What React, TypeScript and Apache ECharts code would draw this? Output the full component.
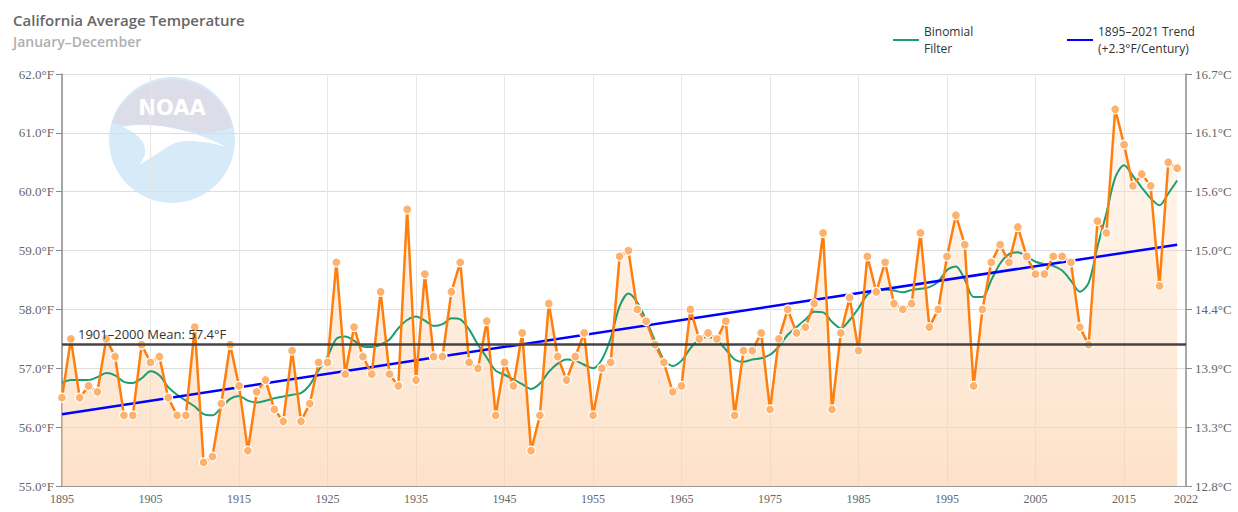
import React, { useEffect, useRef } from 'react';
import * as echarts from 'echarts';

const years: string[] = Array.from({ length: 128 }, (_, i) => String(1895 + i));

const temps: number[] = [
  56.5, 57.5, 56.5, 56.7, 56.6, 57.5, 57.2, 56.2, 56.2, 57.4,
  57.1, 57.2, 56.5, 56.2, 56.2, 57.7, 55.4, 55.5, 56.4, 57.4,
  56.7, 55.6, 56.6, 56.8, 56.3, 56.1, 57.3, 56.1, 56.4, 57.1,
  57.1, 58.8, 56.9, 57.7, 57.2, 56.9, 58.3, 56.9, 56.7, 59.7,
  56.8, 58.6, 57.2, 57.2, 58.3, 58.8, 57.1, 57.0, 57.8, 56.2,
  57.1, 56.7, 57.6, 55.6, 56.2, 58.1, 57.2, 56.8, 57.2, 57.6,
  56.2, 57.0, 57.1, 58.9, 59.0, 58.0, 57.8, 57.4, 57.1, 56.6,
  56.7, 58.0, 57.5, 57.6, 57.5, 57.8, 56.2, 57.3, 57.3, 57.6,
  56.3, 57.5, 58.0, 57.6, 57.7, 58.1, 59.3, 56.3, 57.6, 58.2,
  57.3, 58.9, 58.3, 58.8, 58.1, 58.0, 58.1, 59.3, 57.7, 58.0,
  58.9, 59.6, 59.1, 56.7, 58.0, 58.8, 59.1, 58.8, 59.4, 58.9,
  58.6, 58.6, 58.9, 58.9, 58.8, 57.7, 57.4, 59.5, 59.3, 61.4,
  60.8, 60.1, 60.3, 60.1, 58.4, 60.5, 60.4,
];

const filter: number[] = [
  56.75, 56.8, 56.8, 56.8, 56.85, 56.92, 56.88, 56.77, 56.75, 56.83,
  56.95, 56.88, 56.68, 56.55, 56.45, 56.35, 56.22, 56.2, 56.33, 56.48,
  56.53, 56.45, 56.42, 56.45, 56.49, 56.52, 56.55, 56.58, 56.72, 56.97,
  57.2, 57.5, 57.54, 57.47, 57.37, 57.36, 57.4, 57.49, 57.68, 57.82,
  57.88, 57.81, 57.72, 57.75, 57.85, 57.83, 57.66, 57.4, 57.18, 56.96,
  56.89, 56.81, 56.73, 56.65, 56.74, 56.94, 57.08, 57.15, 57.13, 57.06,
  57.0, 57.15, 57.51, 58.05, 58.27, 58.12, 57.82, 57.47, 57.15, 57.04,
  57.13, 57.34, 57.49, 57.53, 57.47, 57.32, 57.15, 57.11, 57.15, 57.17,
  57.23, 57.37, 57.57, 57.7, 57.83, 57.96, 57.95, 57.79, 57.68, 57.82,
  58.02, 58.25, 58.33, 58.34, 58.32, 58.29, 58.33, 58.35, 58.38, 58.47,
  58.67, 58.73, 58.51, 58.21, 58.21, 58.5, 58.78, 58.94, 58.97, 58.9,
  58.81, 58.77, 58.74, 58.66, 58.49, 58.3, 58.45, 59.07, 59.63, 60.24,
  60.45, 60.27, 60.07, 59.89, 59.77, 59.97, 60.19,
];

const trendPoints: [string, number][] = [['1895', 56.22], ['2021', 59.1]];
const meanValue = 57.4;
const yMinF = 55;
const yMaxF = 62;

const titleText = 'California Average Temperature';
const subtitleText = 'January–December';
const filterName = 'Binomial Filter';
const trendName = '1895–2021 Trend';
const meanLabel = '1901–2000 Mean: 57.4°F';

// NOAA watermark shapes (local box 126 x 126)
const grayPath =
  'M 3,46 A 63,63 0 0 1 124,50 C 112,54 100,56 90,56 C 70,52 45,46 16,48 C 10,48 6,47 3,46 Z';
const gullPath =
  'M 14,50 C 45,44 80,52 118,70 C 96,64 78,62 66,66 C 54,72 44,80 30,88 C 40,76 40,62 14,50 Z';

export default function App() {
  const ref = useRef<HTMLDivElement>(null);
  useEffect(() => {
    document.body.style.margin = '0';
    echarts.graphic.registerShape('noaaGray', echarts.graphic.extendPath(grayPath, {}) as any);
    echarts.graphic.registerShape('noaaGull', echarts.graphic.extendPath(gullPath, {}) as any);
    const chart = echarts.init(ref.current!, null, { renderer: 'svg' });
    const axisFont = 'Liberation Serif, Times New Roman, serif';
    const sansFont = 'Open Sans, DejaVu Sans, sans-serif';
    const option: any = {
      animation: false,
      backgroundColor: '#ffffff',
      title: {
        text: titleText,
        subtext: subtitleText,
        left: 8,
        top: 7,
        itemGap: 7,
        textStyle: { fontFamily: sansFont, fontSize: 15, fontWeight: 600, color: '#666666' },
        subtextStyle: { fontFamily: sansFont, fontSize: 14, fontWeight: 600, color: '#b0b0b0' },
      },
      legend: [
        {
          data: [filterName],
          left: 888,
          top: 18,
          icon: 'rect',
          itemWidth: 26,
          itemHeight: 2,
          formatter: () => 'Binomial\nFilter',
          textStyle: { fontFamily: sansFont, fontSize: 12, color: '#333333', lineHeight: 17 },
        },
        {
          data: [trendName],
          left: 1062,
          top: 18,
          icon: 'rect',
          itemWidth: 26,
          itemHeight: 2,
          formatter: () => '1895–2021 Trend\n(+2.3°F/Century)',
          textStyle: { fontFamily: sansFont, fontSize: 12, color: '#333333', lineHeight: 17 },
        },
      ],
      grid: { left: 62, right: 52, top: 74, bottom: 26, containLabel: false },
      xAxis: {
        type: 'category',
        data: years,
        boundaryGap: false,
        axisLine: { show: true, lineStyle: { color: '#999999', width: 1 } },
        axisTick: { show: false },
        axisLabel: {
          interval: (idx: number, val: string) => idx % 10 === 0 || val === '2022',
          fontFamily: axisFont,
          fontSize: 12,
          color: '#666666',
          margin: 7,
        },
        splitLine: {
          show: true,
          interval: (idx: number) => idx % 10 === 0,
          lineStyle: { color: '#e6e6e6', width: 1 },
        },
      },
      yAxis: [
        {
          type: 'value',
          min: yMinF,
          max: yMaxF,
          interval: 1,
          position: 'left',
          axisLine: { show: true, lineStyle: { color: '#8c8c8c', width: 1.5 } },
          axisTick: { show: true, inside: false, length: 6, lineStyle: { color: '#8c8c8c' } },
          axisLabel: {
            formatter: (v: number) => v.toFixed(1) + '°F',
            fontFamily: axisFont,
            fontSize: 13,
            color: '#666666',
            margin: 8,
          },
          splitLine: { show: true, lineStyle: { color: '#dddddd', width: 1 } },
        },
        {
          type: 'value',
          min: yMinF,
          max: yMaxF,
          interval: 1,
          position: 'right',
          axisLine: { show: true, lineStyle: { color: '#8c8c8c', width: 1.5 } },
          axisTick: { show: true, inside: false, length: 6, lineStyle: { color: '#8c8c8c' } },
          axisLabel: {
            formatter: (v: number) => (((v - 32) * 5) / 9).toFixed(1) + '°C',
            fontFamily: axisFont,
            fontSize: 13,
            color: '#666666',
            margin: 9,
          },
          splitLine: { show: false },
        },
      ],
      graphic: [
        {
          type: 'group',
          left: 109,
          top: 77,
          silent: true,
          z: -10,
          children: [
            { type: 'circle', shape: { cx: 63, cy: 63, r: 63 }, style: { fill: '#d6eaf7' } },
            { type: 'noaaGray', x: 0, y: 0, style: { fill: '#dcdde8' } },
            { type: 'noaaGull', x: 0, y: 0, style: { fill: '#ffffff' } },
            {
              type: 'text',
              x: 63,
              y: 31,
              style: {
                text: 'NOAA',
                fill: '#ffffff',
                font: 'bold 21px DejaVu Sans, sans-serif',
                textAlign: 'center',
                textVerticalAlign: 'middle',
              },
            },
          ],
        },
      ],
      series: [
        {
          name: 'Temperature area',
          type: 'line',
          data: temps,
          z: 1,
          symbol: 'none',
          silent: true,
          lineStyle: { width: 0, opacity: 0 },
          areaStyle: {
            origin: 'start',
            color: new echarts.graphic.LinearGradient(0, 0, 0, 1, [
              { offset: 0, color: 'rgba(253,226,200,0.4)' },
              { offset: 1, color: 'rgba(252,208,168,0.9)' },
            ]),
          },
          markLine: {
            silent: true,
            symbol: 'none',
            lineStyle: { color: '#444444', width: 2.5, type: 'solid' },
            label: {
              show: true,
              position: 'insideStartTop',
              formatter: meanLabel,
              distance: [16, 4],
              fontFamily: sansFont,
              fontSize: 13,
              color: '#333333',
            },
            data: [{ yAxis: meanValue }],
          },
        },
        {
          name: filterName,
          type: 'line',
          data: filter,
          z: 2,
          symbol: 'none',
          smooth: 0.3,
          lineStyle: { color: '#1a9e72', width: 2 },
          itemStyle: { color: '#1a9e72' },
        },
        {
          name: trendName,
          type: 'line',
          data: trendPoints,
          z: 2,
          symbol: 'none',
          lineStyle: { color: '#0000ff', width: 2.5 },
          itemStyle: { color: '#0000ff' },
        },
        {
          name: 'Temperature',
          type: 'line',
          data: temps,
          z: 4,
          symbol: 'circle',
          symbolSize: 9,
          showAllSymbol: true,
          lineStyle: { color: '#ff7f0e', width: 2.5 },
          itemStyle: { color: '#fdb36f', borderColor: '#ffffff', borderWidth: 1.2 },
        },
      ],
    };
    chart.setOption(option);
    return () => chart.dispose();
  }, []);
  return (
    <div
      ref={ref}
      style={{ position: 'fixed', left: 0, top: 0, width: 1238, height: 512, background: '#ffffff' }}
    />
  );
}
